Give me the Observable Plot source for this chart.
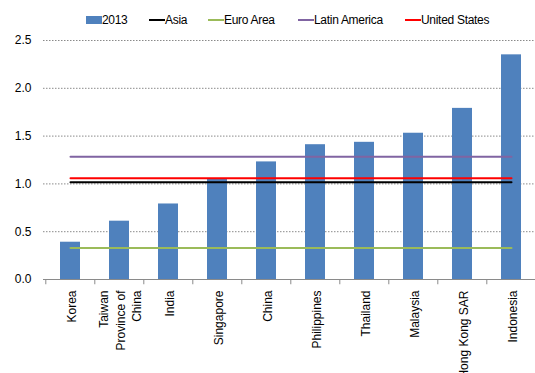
<!DOCTYPE html>
<html>
<head>
<meta charset="utf-8">
<script src="https://cdn.jsdelivr.net/npm/d3@7"></script>
<script src="https://cdn.jsdelivr.net/npm/@observablehq/plot@0.6"></script>
<style>
  html, body { margin: 0; padding: 0; background: #fff; }
  body { width: 535px; height: 373px; overflow: hidden; font-family: "Liberation Sans", Arial, sans-serif; }
  #legend { position: relative; height: 32px; font-size: 12px; color: #000; letter-spacing: -0.3px; }
  .item { position: absolute; top: 13px; height: 14px; display: flex; align-items: center; white-space: nowrap; }
  .sw { display: inline-block; width: 16px; }
</style>
</head>
<body>
<div id="legend"></div>
<div id="chart"></div>
<script>
const categories = ["Korea", "Taiwan\nProvince of\nChina", "India", "Singapore", "China", "Philippines", "Thailand", "Malaysia", "Hong Kong SAR", "Indonesia"];
const values2013 = [0.39, 0.61, 0.79, 1.055, 1.23, 1.41, 1.435, 1.53, 1.79, 2.35];
const barLabel = "2013";
const seriesNames = ["Asia", "Euro Area", "Latin America", "United States"];
const seriesValues = [1.016, 0.33, 1.285, 1.06];
const yTicks = [0, 0.5, 1.0, 1.5, 2.0, 2.5];

const barColor = "#4F81BD";
const seriesColors = ["#000000", "#9BBB59", "#8064A2", "#FF0000"];

// Legend (HTML, above the SVG)
const legend = document.getElementById("legend");
const legendLeft = [86, 149, 208, 298, 405];
const legendItems = [{name: barLabel, color: barColor, bar: true}]
  .concat(seriesNames.map((n, i) => ({name: n, color: seriesColors[i], bar: false})));
legendItems.forEach((it, i) => {
  const el = document.createElement("div");
  el.className = "item";
  el.style.left = legendLeft[i] + "px";
  const sw = document.createElement("span");
  sw.className = "sw";
  sw.style.height = it.bar ? "8px" : "2px";
  sw.style.background = it.color;
  el.appendChild(sw);
  const t = document.createElement("span");
  t.textContent = it.name;
  el.appendChild(t);
  legend.appendChild(el);
});

const bars = categories.map((c, i) => ({category: c, value: values2013[i]}));

const marks = [
  Plot.ruleY(yTicks.filter(d => d > 0), {stroke: "#8a8a8a", strokeDasharray: "1.5,1.5", strokeWidth: 1}),
  Plot.barY(bars, {x: "category", y: "value", fill: barColor}),
  Plot.ruleY([0], {stroke: "#8a8a8a", strokeWidth: 1}),
  Plot.ruleX(categories, {x: d => d, y1: 0, y2: -0.055, stroke: "#8a8a8a", dx: -24.7}),
];
seriesNames.forEach((name, i) => {
  marks.push(Plot.lineY(categories, {x: d => d, y: () => seriesValues[i], stroke: seriesColors[i], strokeWidth: 2}));
});
marks.push(
  Plot.axisY({ticks: yTicks, tickFormat: d3.format(".1f"), tickSize: 0, tickPadding: 12, label: null}),
  Plot.axisX({tickRotate: -90, tickSize: 0, tickPadding: 11, label: null, lineHeight: 1.35})
);

const chart = Plot.plot({
  width: 535,
  height: 341,
  marginTop: 8,
  marginBottom: 94,
  marginLeft: 43,
  marginRight: 0,
  style: {fontFamily: "'Liberation Sans', Arial, sans-serif", fontSize: "12px", color: "#000", background: "#fff"},
  x: {domain: categories, range: [43.3, 537.7], paddingInner: 0.595, paddingOuter: 0.2975},
  y: {domain: [0, 2.5]},
  marks
});
document.getElementById("chart").appendChild(chart);
</script>
</body>
</html>
